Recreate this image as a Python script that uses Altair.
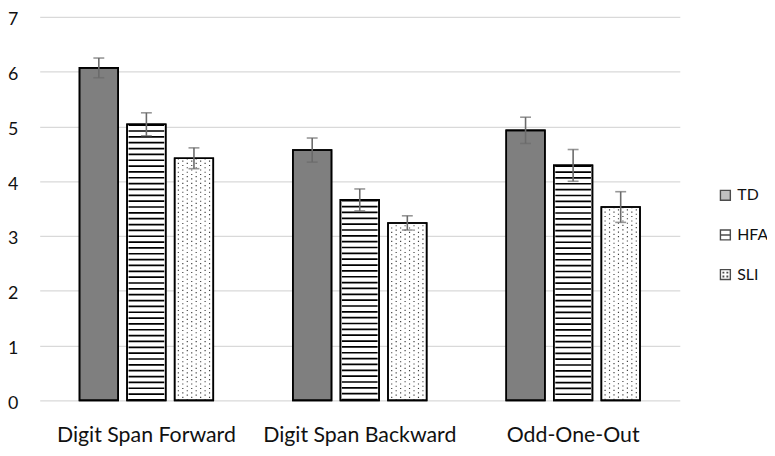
import altair as alt
import pandas as pd

tasks = ["Digit Span Forward", "Digit Span Backward", "Odd-One-Out"]
groups = ["TD", "HFA", "SLI"]
td_mean = [6.07, 4.57, 4.93]
hfa_mean = [5.04, 3.66, 4.29]
sli_mean = [4.42, 3.24, 3.53]
td_err = [0.18, 0.22, 0.24]
hfa_err = [0.21, 0.20, 0.29]
sli_err = [0.19, 0.13, 0.28]
y_ticks = [0, 1, 2, 3, 4, 5, 6, 7]

rows = []
for g, m, e in zip(groups, [td_mean, hfa_mean, sli_mean], [td_err, hfa_err, sli_err]):
    for t, mv, ev in zip(tasks, m, e):
        rows.append({"task": t, "group": g, "mean": mv, "lo": mv - ev, "hi": mv + ev})
df = pd.DataFrame(rows)

FONT = "Lato"
PLOT_W, PLOT_H = 646, 387
X_PAD = 0.373
XO_PAD = 0.1875

x_axis = alt.Axis(title=None, labelAngle=0, labelFontSize=21.5, labelColor="#111",
                  labelPadding=24, domain=False, ticks=False, labelFont=FONT, labelLimit=0)
x_scale = alt.Scale(paddingInner=X_PAD, paddingOuter=X_PAD / 2)
x_enc = alt.X("task:N", sort=tasks, scale=x_scale, axis=x_axis)
xo_enc = alt.XOffset("group:N", sort=groups,
                     scale=alt.Scale(domain=groups, paddingInner=XO_PAD, paddingOuter=0))
y_scale = alt.Scale(domain=[0, 7], nice=False)
y_axis = alt.Axis(title=None, values=y_ticks, grid=True, gridColor="#d9d9d9", gridWidth=1.3,
                  domain=False, ticks=False, labelFontSize=18, labelPadding=22,
                  labelColor="#111", labelFont=FONT, labelOffset=3)

fill_scale = alt.Scale(domain=groups, range=["#7f7f7f", "white", "white"])
stroke_scale = alt.Scale(domain=groups, range=["black", "black", "black"])
shape_scale = alt.Scale(domain=groups, range=[
    "M-1,-1H1V1H-1Z",
    "M-1,-1H1V1H-1Z M-1,0H1",
    "M-1,-1H1V1H-1Z M-0.45,-0.45h0.1v0.1h-0.1Z M0.35,-0.45h0.1v0.1h-0.1Z M-0.45,0.35h0.1v0.1h-0.1Z M0.35,0.35h0.1v0.1h-0.1Z",
])
legend = alt.Legend(title=None, orient="none", legendX=684, legendY=172,
                    labelFont=FONT, labelFontSize=16, labelColor="#111",
                    symbolSize=100, symbolStrokeWidth=1.4,
                    rowPadding=24, labelOffset=4)

base = alt.Chart(df).transform_calculate(mid="datum.mean/2", zero="0")

hidden = base.mark_point(filled=True, size=20, strokeWidth=1).encode(
    x=x_enc, xOffset=xo_enc,
    y=alt.Y("mid:Q", scale=y_scale, axis=y_axis),
    fill=alt.Fill("group:N", scale=fill_scale, legend=legend),
    stroke=alt.Stroke("group:N", scale=stroke_scale, legend=legend),
    shape=alt.Shape("group:N", scale=shape_scale, legend=legend),
)

bars = base.mark_bar(strokeWidth=1.6).encode(
    x=x_enc, xOffset=xo_enc,
    y=alt.Y("mean:Q", scale=y_scale, axis=y_axis),
    fill=alt.Fill("group:N", scale=fill_scale, legend=legend),
    stroke=alt.Stroke("group:N", scale=stroke_scale, legend=legend),
)

stripes = base.transform_filter("datum.group == 'HFA'").mark_rule(
    strokeWidth=36, strokeDash=[1.7, 4.2], color="black").encode(
    x=x_enc, xOffset=xo_enc,
    y=alt.Y("mean:Q", scale=y_scale, axis=y_axis),
    y2="zero:Q",
)

# dot pattern of the SLI bars: columns of dotted rules placed inside the SLI sub-band
band_px = PLOT_W / 3 * (1 - X_PAD)
sub_step = 1 / (3 - XO_PAD)
sli_center = 2 * sub_step + sub_step * (1 - XO_PAD) / 2
dot_layers = []
for k in range(8):
    off_px = -15.75 + 4.5 * k
    dot_layers.append(
        base.transform_filter("datum.group == 'SLI'").mark_rule(
            strokeWidth=1.15, strokeDash=[1.15, 3.35], color="#3a3a3a",
            strokeDashOffset=(0 if k % 2 == 0 else 2.25)).encode(
            x=alt.X("task:N", sort=tasks, scale=x_scale, axis=x_axis,
                    bandPosition=sli_center + off_px / band_px),
            y=alt.Y("mean:Q", scale=y_scale, axis=y_axis),
            y2="zero:Q",
        )
    )

outline = base.mark_bar(stroke="black", strokeWidth=1.6, fillOpacity=0).encode(
    x=x_enc, xOffset=xo_enc,
    y=alt.Y("mean:Q", scale=y_scale, axis=y_axis),
)

err_rule = base.mark_rule(color="#6b6b6b", strokeWidth=1.6).encode(
    x=x_enc, xOffset=xo_enc,
    y=alt.Y("lo:Q", scale=y_scale, axis=y_axis),
    y2="hi:Q",
)
err_lo = base.mark_tick(color="#6b6b6b", size=11, thickness=1.6).encode(
    x=x_enc, xOffset=xo_enc,
    y=alt.Y("lo:Q", scale=y_scale, axis=y_axis),
)
err_hi = base.mark_tick(color="#6b6b6b", size=11, thickness=1.6).encode(
    x=x_enc, xOffset=xo_enc,
    y=alt.Y("hi:Q", scale=y_scale, axis=y_axis),
)

chart = alt.layer(hidden, bars, stripes, *dot_layers, outline, err_rule, err_lo, err_hi).properties(
    width=PLOT_W, height=PLOT_H,
    autosize=alt.AutoSizeParams(type="none"),
    padding={"left": 32, "top": 7, "right": 88, "bottom": 46},
    background="white",
).configure_view(stroke=None)

chart.save("out.html", embed_options={"renderer": "svg", "actions": False})
